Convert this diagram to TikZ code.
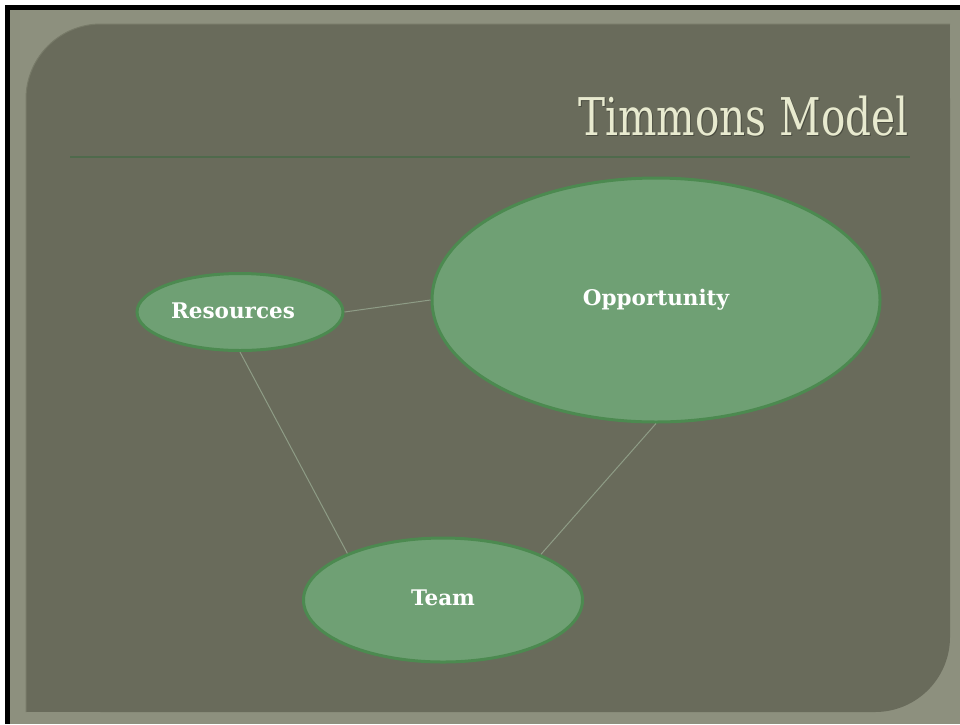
\documentclass[tikz,border=0pt]{standalone}
\usepackage{fontspec}
\setmainfont{DejaVu Serif}
\usetikzlibrary{shapes.geometric}
\definecolor{outerframe}{HTML}{8D907E}
\definecolor{panel}{HTML}{696B5B}
\definecolor{titlecol}{HTML}{E8EACF}
\definecolor{titleshade}{HTML}{4A4C40}
\definecolor{rulecol}{HTML}{4F6A4C}
\definecolor{blobfill}{HTML}{6FA074}
\definecolor{blobline}{HTML}{4C8A50}
\definecolor{linkcol}{HTML}{8E9C86}
\definecolor{paneledge}{HTML}{777A68}
\begin{document}
\begin{tikzpicture}[x=1pt,y=-1pt]
  \tikzstyle{blob}=[ellipse,draw=blobline,fill=blobfill,line width=3pt,inner sep=0pt,
    text=white,font=\bfseries\fontsize{21.5}{26}\selectfont]
  \tikzstyle{heading}=[anchor=base east,font=\fontsize{52}{62}\selectfont]
  \tikzstyle{link}=[draw=linkcol,line width=1pt]
  \def\rad{75pt}	% corner radius of the panel
  % frame and slide panel
  \useasboundingbox (0,0) rectangle (960,724);
  \fill[white] (0,0) rectangle (960,724);
  \fill[black] (5,5) rectangle (960,724);
  \fill[outerframe] (10,10) rectangle (960,724);
  \fill[panel,rounded corners=\rad] (26,24) rectangle (950,712);
  \fill[panel] (800,24) rectangle (950,200);
  \fill[panel] (26,560) rectangle (200,712);
  \draw[paneledge,line width=1pt,rounded corners=\rad] (26,712) -- (26,24) -- (950,24);
  % heading
  \node[heading,text=titleshade] (shade) at (913,136) {\scalebox{0.78}[1]{Timmons Model}};
  \node[heading,text=titlecol] (title) at (912,135) {\scalebox{0.78}[1]{Timmons Model}};
  \coordinate (rl) at (70,157);
  \coordinate (rr) at (910,157);
  \draw[rulecol,line width=1.5pt] (rl) -- (rr);
  % the three parts
  \node[blob,minimum width=206pt,minimum height=77pt] (res) at (240,312) {\hspace*{-14pt}\raisebox{3pt}{Resources}};
  \node[blob,minimum width=448pt,minimum height=244pt] (opp) at (656,300) {Opportunity};
  \node[blob,minimum width=279pt,minimum height=124pt] (team) at (443,600) {\raisebox{4pt}{Team}};
  \draw[link] (res.east) -- (opp.west);
  \draw[link] (res.south) -- (team.154);
  \draw[link] (opp.south) -- (team.25);
\end{tikzpicture}
\end{document}
